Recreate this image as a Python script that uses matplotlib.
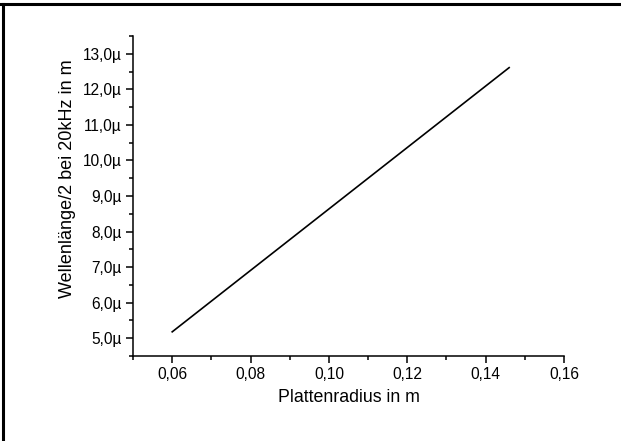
import numpy as np
import matplotlib
matplotlib.use("Agg")
import matplotlib.pyplot as plt
from matplotlib.lines import Line2D
from matplotlib.ticker import FuncFormatter, MultipleLocator

plt.rcParams['font.family'] = ['Liberation Sans', 'DejaVu Sans']

# plate radius (m) and half wavelength at 20 kHz (m)
radius = [0.06, 0.146]
half_wavelength = [5.18e-6, 12.61e-6]

x_label = 'Plattenradius in m'
y_label = 'Wellenlänge/2 bei 20kHz in m'

fig = plt.figure(figsize=(6.21, 4.41), dpi=100)
ax = fig.add_axes([0.2142, 0.1927, 0.694, 0.7257])

ax.plot(radius, half_wavelength, color='black', lw=1.2)

ax.set_xlim(0.05, 0.16)
ax.set_ylim(4.5e-6, 13.5e-6)
ax.xaxis.set_major_locator(MultipleLocator(0.02))
ax.xaxis.set_minor_locator(MultipleLocator(0.01))
ax.yaxis.set_major_locator(MultipleLocator(1e-6))
ax.yaxis.set_minor_locator(MultipleLocator(0.5e-6))

def fmt_x(v, pos):
    if v < 0.055:
        return ''
    return f'{v:.2f}'.replace('.', ',')

def fmt_y(v, pos):
    if v < 4.9e-6:
        return ''
    return f'{v * 1e6:.1f}µ'.replace('.', ',')

ax.xaxis.set_major_formatter(FuncFormatter(fmt_x))
ax.yaxis.set_major_formatter(FuncFormatter(fmt_y))

for side in ['top', 'right']:
    ax.spines[side].set_visible(False)
for side in ['left', 'bottom']:
    ax.spines[side].set_linewidth(1.1)

ax.tick_params(which='major', direction='out', length=5, width=1.1, labelsize=11.2, pad=3)
ax.tick_params(which='minor', direction='out', length=3, width=1.1)

ax.set_xlabel(x_label, fontsize=12.8, labelpad=5)
ax.set_ylabel(y_label, fontsize=13)
ax.yaxis.set_label_coords(-0.132, 0.553)

# page frame lines
fig.add_artist(Line2D([0, 1], [1 - 4 / 441, 1 - 4 / 441], transform=fig.transFigure,
                      color='black', lw=2.2))
fig.add_artist(Line2D([3 / 621, 3 / 621], [0, 1 - 4 / 441], transform=fig.transFigure,
                      color='black', lw=2.2))

fig.savefig('out.png', dpi=100)
